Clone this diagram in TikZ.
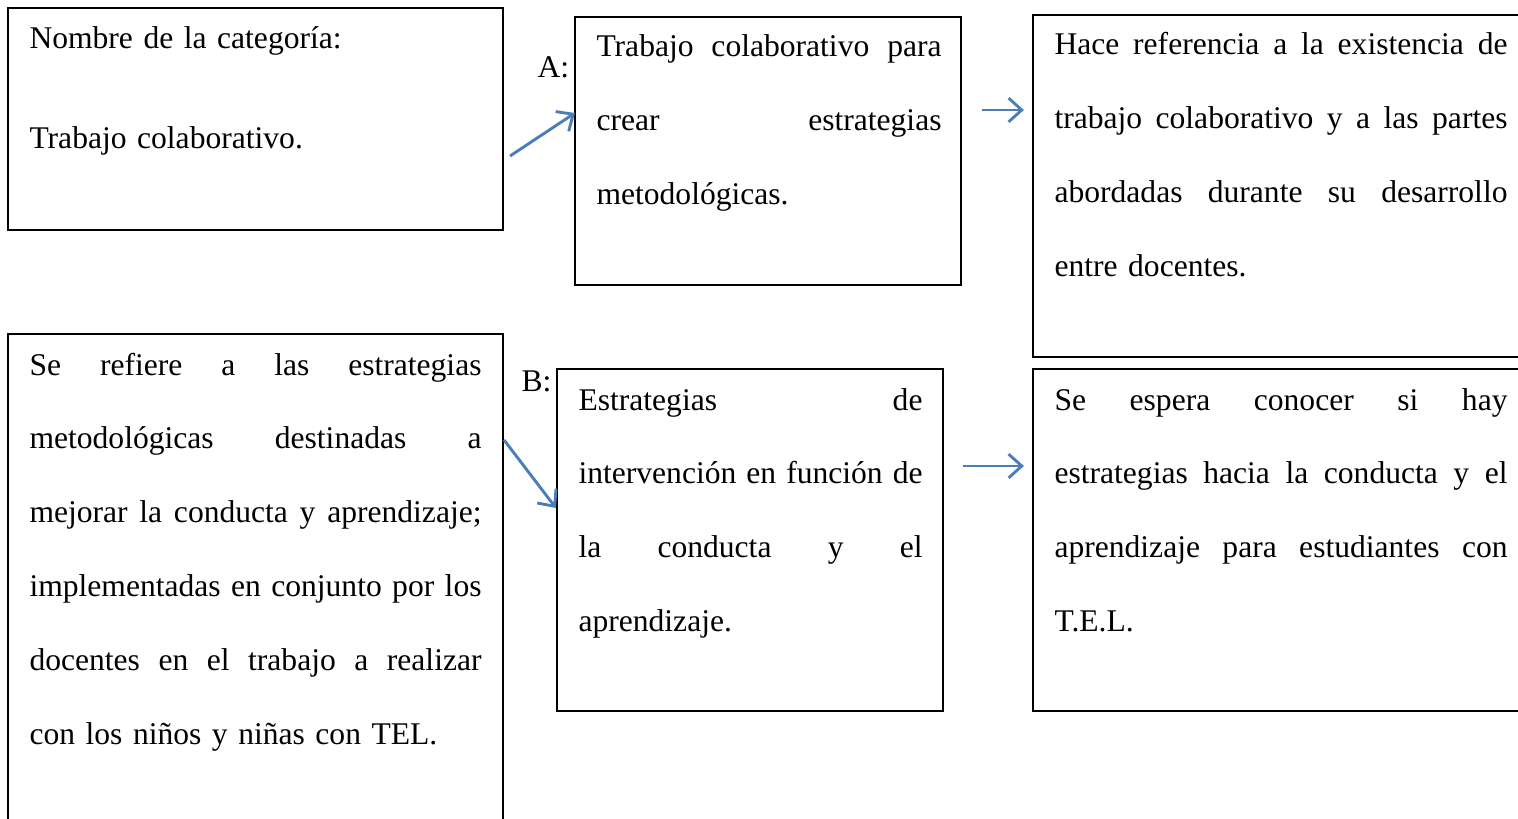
\documentclass[tikz,border=0pt]{standalone}
\usepackage{fontspec}
\setmainfont{Liberation Serif}
\usepackage{tikz}
\usetikzlibrary{arrows.meta,positioning,fit,calc}
\usepackage{xcolor}
\definecolor{Arrow}{HTML}{4A7EBB}
\newcommand{\jl}[1]{\noindent\hbox to \hsize{\spaceskip=0.25em plus 1fill\relax #1}\\}
\tikzset{
  catbox/.style={draw=black, line width=0.8pt, inner sep=0pt, rectangle},
  cattext/.style={anchor=base west, inner sep=0pt, align=left,
    text width=#1*0.38pt, font=\fontsize{12pt}{28.1pt}\selectfont},
  cattext/.default={450},
  tag/.style={anchor=base west, inner sep=0pt, font=\fontsize{12pt}{14pt}\selectfont},
  bluearr/.style={-{Straight Barb[length=5pt,width=9pt]}, line width=1.1pt, color=Arrow},
}

\begin{document}
\begin{tikzpicture}[x=0.38pt, y=-0.38pt]
  \useasboundingbox (0,0) rectangle (1518,819);
  \fill[white] (0,0) rectangle (1518,819);
  \clip (0,0) rectangle (1518,819);

  % boxes
  \node[catbox, fit={(8,8) (503,230)}]     (b1) {};
  \node[catbox, fit={(575,17) (961,285)}]  (b2) {};
  \node[catbox, fit={(1033,15) (1530,357)}] (b3) {};
  \node[catbox, fit={(8,334) (503,840)}]   (b4) {};
  \node[catbox, fit={(557,369) (943,711)}] (b5) {};
  \node[catbox, fit={(1033,369) (1530,711)}] (b6) {};

  % texts
  \node[cattext=460] (t1) at (29,49)
    {Nombre de la categoría:\\[9.9pt]Trabajo colaborativo.};
  \node[cattext=345] (t2) at (596,57)
    {\jl{Trabajo colaborativo para}\jl{crear estrategias}metodológicas.};
  \node[cattext=453] (t3) at (1054,55)
    {\jl{Hace referencia a la existencia de}\jl{trabajo colaborativo y a las partes}%
     \jl{abordadas durante su desarrollo}entre docentes.};
  \node[cattext=452] (t4) at (29,375)
    {\jl{Se refiere a las estrategias}\jl{metodológicas destinadas a}%
     \jl{mejorar la conducta y aprendizaje;}\jl{implementadas en conjunto por los}%
     \jl{docentes en el trabajo a realizar}con los niños y niñas con TEL.};
  \node[cattext=344] (t5) at (578,410)
    {\jl{Estrategias de}\jl{intervención en función de}\jl{la conducta y el}aprendizaje.};
  \node[cattext=453] (t6) at (1054,410)
    {\jl{Se espera conocer si hay}\jl{estrategias hacia la conducta y el}%
     \jl{aprendizaje para estudiantes con}T.E.L.};

  \node[tag] (la) at (537,78) {A:};
  \node[tag] (lb) at (521,391) {B:};

  % arrows
  \draw[bluearr] ([shift={(6,37)}]b1.east) -- ([shift={(1,-38)}]b2.west);
  \draw[bluearr] ([shift={(20,-41)}]b2.east) -- ([shift={(-8,-76)}]b3.west);
  \draw[bluearr] ([shift={(0,-147)}]b4.east) -- ([shift={(0,-32)}]b5.west);
  \draw[bluearr] ([shift={(19,-74)}]b5.east) -- ([shift={(-8,-74)}]b6.west);
\end{tikzpicture}
\end{document}
